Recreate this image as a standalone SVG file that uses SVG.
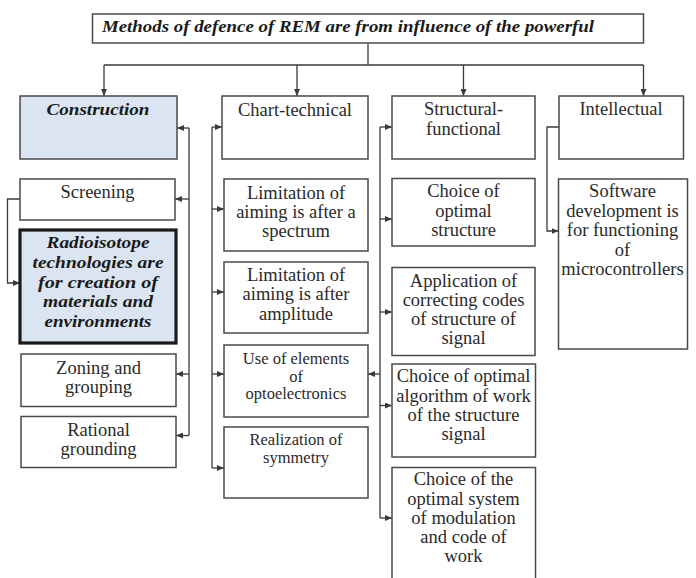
<svg xmlns="http://www.w3.org/2000/svg" width="696" height="578" viewBox="0 0 696 578">
<style>
.box{fill:#fff;stroke:#4a4a4a;stroke-width:1.5}
.blue{fill:#dbe5f1}
.thick{stroke:#1a1a1a;stroke-width:3.2}
.t{font-family:"Liberation Serif","Times New Roman",serif;font-size:18.5px;fill:#2a2a2a;text-anchor:middle}
.s{font-size:16.5px}
.bi{font-family:"Liberation Serif","Times New Roman",serif;font-weight:bold;font-style:italic;font-size:17px;fill:#1a1a1a;text-anchor:middle}
.c{fill:none;stroke:#3a3a3a;stroke-width:1.3}
</style>
<defs>
<marker id="a" markerWidth="7" markerHeight="6" refX="7" refY="3" orient="auto" markerUnits="userSpaceOnUse">
<path d="M0,0 L7,3 L0,6 Z" fill="#3a3a3a"/>
</marker>
</defs>

<g id="connectors">
<path class="c" d="M368,43 V65 M104,65 H643.5"/>
<path class="c" d="M104,65 V96" marker-end="url(#a)"/>
<path class="c" d="M297,65 V96" marker-end="url(#a)"/>
<path class="c" d="M463.5,65 V96" marker-end="url(#a)"/>
<path class="c" d="M643.5,65 V96" marker-end="url(#a)"/>
<path class="c" d="M189,128 V435.5"/>
<path class="c" d="M189,128 H177" marker-end="url(#a)"/>
<path class="c" d="M189,199 H175" marker-end="url(#a)"/>
<path class="c" d="M189,374 H176" marker-end="url(#a)"/>
<path class="c" d="M189,435.5 H176" marker-end="url(#a)"/>
<path class="c" d="M20,199 H7.5 V283 H20" marker-end="url(#a)"/>
<path class="c" d="M212,127 V468"/>
<path class="c" d="M212,127 H222" marker-end="url(#a)"/>
<path class="c" d="M212,209 H224" marker-end="url(#a)"/>
<path class="c" d="M212,292 H224" marker-end="url(#a)"/>
<path class="c" d="M212,374 H224" marker-end="url(#a)"/>
<path class="c" d="M212,468 H224" marker-end="url(#a)"/>
<path class="c" d="M380,127 V518"/>
<path class="c" d="M380,127 H392" marker-end="url(#a)"/>
<path class="c" d="M380,219 H392" marker-end="url(#a)"/>
<path class="c" d="M380,312 H392" marker-end="url(#a)"/>
<path class="c" d="M380,405.5 H392" marker-end="url(#a)"/>
<path class="c" d="M380,518 H392" marker-end="url(#a)"/>
<path class="c" d="M380,374 H368" marker-end="url(#a)"/>
<path class="c" d="M559,127 H547 V231 H558.5" marker-end="url(#a)"/>
</g>

<g id="title">
<rect class="box" x="92.5" y="14" width="551" height="29"/>
<text class="bi" x="102" y="32" style="text-anchor:start" textLength="492" lengthAdjust="spacingAndGlyphs">Methods of defence of REM are from influence of the powerful</text>
</g>

<g id="construction">
<rect class="box blue" x="20" y="96" width="157" height="63"/>
<text class="bi" x="98" y="115" textLength="103" lengthAdjust="spacingAndGlyphs">Construction</text>
</g>
<g id="screening">
<rect class="box" x="20" y="179" width="155" height="41"/>
<text class="t" x="97.5" y="198">Screening</text>
</g>
<g id="radioisotope">
<rect class="box blue thick" x="20" y="230" width="156" height="113"/>
<text class="bi" x="98" y="248" textLength="103" lengthAdjust="spacingAndGlyphs">Radioisotope</text>
<text class="bi" x="98" y="268" textLength="131" lengthAdjust="spacingAndGlyphs">technologies are</text>
<text class="bi" x="98" y="287.5" textLength="120" lengthAdjust="spacingAndGlyphs">for creation of</text>
<text class="bi" x="98" y="307" textLength="110" lengthAdjust="spacingAndGlyphs">materials and</text>
<text class="bi" x="98" y="326.5" textLength="107" lengthAdjust="spacingAndGlyphs">environments</text>
</g>
<g id="zoning">
<rect class="box" x="21" y="354" width="155" height="52.5"/>
<text class="t" x="98.5" y="374">Zoning and</text>
<text class="t" x="98.5" y="393">grouping</text>
</g>
<g id="rational">
<rect class="box" x="21" y="416.5" width="155" height="51"/>
<text class="t" x="98.5" y="435.5">Rational</text>
<text class="t" x="98.5" y="455">grounding</text>
</g>

<g id="chart-technical">
<rect class="box" x="222" y="96" width="146" height="63"/>
<text class="t" x="295" y="115.5">Chart-technical</text>
</g>
<g id="lim-spectrum">
<rect class="box" x="224" y="179" width="144" height="72"/>
<text class="t" x="296" y="199">Limitation of</text>
<text class="t" x="296" y="218">aiming is after a</text>
<text class="t" x="296" y="237">spectrum</text>
</g>
<g id="lim-amplitude">
<rect class="box" x="224" y="262" width="144" height="71"/>
<text class="t" x="296" y="281">Limitation of</text>
<text class="t" x="296" y="300">aiming is after</text>
<text class="t" x="296" y="319.5">amplitude</text>
</g>
<g id="optoelectronics">
<rect class="box" x="224" y="345" width="144" height="72"/>
<text class="t s" x="296" y="364">Use of elements</text>
<text class="t s" x="296" y="381.5">of</text>
<text class="t s" x="296" y="399">optoelectronics</text>
</g>
<g id="symmetry">
<rect class="box" x="224" y="427" width="144" height="71"/>
<text class="t s" x="296" y="445">Realization of</text>
<text class="t s" x="296" y="463">symmetry</text>
</g>

<g id="structural-functional">
<rect class="box" x="392" y="96" width="143" height="63"/>
<text class="t" x="463.5" y="115">Structural-</text>
<text class="t" x="463.5" y="134.5">functional</text>
</g>
<g id="optimal-structure">
<rect class="box" x="392" y="178.5" width="143" height="67.5"/>
<text class="t" x="463.5" y="197">Choice of</text>
<text class="t" x="463.5" y="216.5">optimal</text>
<text class="t" x="463.5" y="236">structure</text>
</g>
<g id="correcting-codes">
<rect class="box" x="392" y="267.5" width="143" height="88"/>
<text class="t" x="463.5" y="287">Application of</text>
<text class="t" x="463.5" y="306">correcting codes</text>
<text class="t" x="463.5" y="324.5">of structure of</text>
<text class="t" x="463.5" y="343.5">signal</text>
</g>
<g id="optimal-algorithm">
<rect class="box" x="392" y="364" width="143.5" height="93"/>
<text class="t" x="463.5" y="382">Choice of optimal</text>
<text class="t" x="463.5" y="401.5">algorithm of work</text>
<text class="t" x="463.5" y="421">of the structure</text>
<text class="t" x="463.5" y="440">signal</text>
</g>
<g id="optimal-modulation">
<rect class="box" x="392" y="467.5" width="143.5" height="120"/>
<text class="t" x="463.5" y="485">Choice of the</text>
<text class="t" x="463.5" y="505">optimal system</text>
<text class="t" x="463.5" y="523.5">of modulation</text>
<text class="t" x="463.5" y="543">and code of</text>
<text class="t" x="463.5" y="562">work</text>
</g>

<g id="intellectual">
<rect class="box" x="559" y="96" width="124.5" height="63"/>
<text class="t" x="621" y="115">Intellectual</text>
</g>
<g id="software">
<rect class="box" x="558.5" y="179" width="129" height="170"/>
<text class="t" x="622.5" y="197">Software</text>
<text class="t" x="622.5" y="216.5">development is</text>
<text class="t" x="622.5" y="236">for functioning</text>
<text class="t" x="622.5" y="255.5">of</text>
<text class="t" x="622.5" y="275">microcontrollers</text>
</g>
</svg>
